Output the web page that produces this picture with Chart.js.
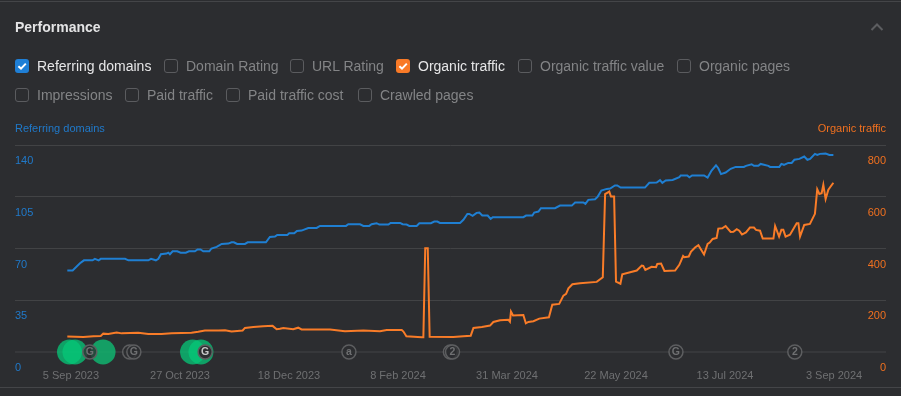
<!DOCTYPE html>
<html><head><meta charset="utf-8">
<style>
html,body{margin:0;padding:0;background:#2c2d30;width:901px;height:396px;overflow:hidden;font-family:"Liberation Sans",Arial,sans-serif}
#wrap{position:relative;width:901px;height:396px}
canvas{position:absolute;left:0;top:0}
.t{position:absolute;white-space:nowrap;line-height:16px}
.rule{position:absolute;left:0;width:901px;height:1px;background:#444548}
.box{position:absolute;width:12px;height:12px;border:1px solid #5b5c5f;border-radius:3px}
.box.on{border:0;width:14px;height:14px;border-radius:3px}
.box.on svg{display:block}
</style></head><body><div id="wrap">
<canvas id="c" width="901" height="396"></canvas>
</div>
<script src="https://cdn.jsdelivr.net/npm/chart.js@4"></script>
<script>
const tickDays=[0,52,104,156,208,260,312,364];
const tickLabels=["5 Sep 2023","27 Oct 2023","18 Dec 2023","8 Feb 2024","31 Mar 2024","22 May 2024","13 Jul 2024","3 Sep 2024"];
const leftTicks=[0,35,70,105,140];
const rightTicks=[0,200,400,600,800];
const rowOne=[["Referring domains",15,"#1f7fd6"],["Domain Rating",164,null],["URL Rating",290,null],["Organic traffic",396,"#f97a27"],["Organic traffic value",518,null],["Organic pages",677,null]];
const rowTwo=[["Impressions",15,null],["Paid traffic",125,null],["Paid traffic cost",226,null],["Crawled pages",358,null]];

const refDays=[-1.75,0.8,4.3,6.2,10.3,11.4,13.2,14.2,25.8,27.4,36.9,38.2,40.5,41.7,42.9,45.6,46.4,47.2,48.5,50.7,52.3,54.8,56.3,59.1,60.4,61.8,63.1,66,67,69.5,71.9,75.1,76.6,77.7,79.3,83,84.3,93,94.9,97.3,98.4,103.2,104.1,106.5,107.8,110,113.2,117.2,118.8,131.2,132.3,137.9,139.5,142.3,143.4,145.8,147.1,151.4,152.5,157,158.2,160.1,161.4,164.9,166.2,171.7,173.3,174.8,176,185.6,187.2,189.1,190,191.6,193.5,194.8,196.2,198.8,200.2,201.2,215.8,217.1,220.1,221,223,224.2,230.9,233.3,238.9,240.5,244.4,245.4,246.8,250,251.3,253,255.6,257.2,259.5,260.6,262.2,273.8,275.9,279.4,281,282.1,283.7,287,290.2,290.9,294,295,296.3,302,303.7,305.6,307.7,308.8,310.1,312.3,314.7,317.1,321,322,324.7,325.8,327.9,329,332.7,333.5,337.9,338.9,340.1,342.2,343.8,345.1,347.5,349.8,351.3,352.6,354.9,356,357.3,360,361.8,363.7];
const refValues=[55.1,55.1,60,62,62,63,62,63,63,62,62,63,62,63,66.1,66.6,67.2,66.1,68.1,68.1,67.2,67.2,68.1,68.1,69.3,69.3,68.1,68.1,70,71.1,73.1,73.3,74.2,74.2,73.1,73.1,74.2,74.2,77.8,78.1,79.2,79.2,80.3,80.3,81.9,82.1,83.9,83.9,85.3,85.3,86.4,86.4,85.3,85.3,86.4,87.1,86.2,86.2,87.3,87.3,86.4,86.2,85.3,85.3,87.1,87.1,88.2,88.2,87.3,87.3,89.4,93.4,93.4,92.1,94.1,94.3,92.3,92.3,90,91.2,91.2,92.3,92.3,94.3,95,97.3,97.3,99,99,101.1,101.1,100.2,102.9,103.3,105.1,109.2,110.3,110.5,112.6,112.6,111.2,111.2,114.4,114.6,116.2,114.4,116,116.4,118.2,119.4,119.4,118.2,119.4,119.4,118,122.7,126.3,124.3,120.3,121.4,123.9,125.2,125.2,125.9,127,125.9,125.9,127.2,125.9,125.2,125.2,127.2,126.6,127.9,127.9,130,130.6,132.2,130,130.6,134,133.3,134,134.2,133.3,133.3];

const orgDays=[-1.75,5.9,10.7,14.2,15.4,17.8,21.8,24.2,32.1,36.9,43.2,48,57.5,60.7,63.9,70.3,73.5,76.6,81.9,83,87,91.7,96.2,98.1,99.7,101.3,106,108.4,110,118.8,123.6,130.7,139.5,147.4,150.6,157.8,158.6,160,167.3,168.1,169,170.2,171.1,182.4,187.2,190.7,192,196,199.9,201.5,204.7,208.6,209.4,209.9,210.9,215.8,217,218.2,220.6,223.4,228,229.6,232.9,234.9,236.2,237.3,239.2,242.8,250.8,253.7,254.8,256.8,257.6,259.1,260,262.1,263,269.9,272.3,273,274,277,279.1,279.7,281.5,283.1,288.2,290.2,292,292.6,294.7,295.8,297.7,299.3,302,303.7,304.7,306.1,308,308.8,310.7,312.3,314.7,316,317.6,318.8,320.1,322,323.9,325.8,326.8,328.7,330,335.1,335.9,337.8,338.9,339.8,340.9,343,346.2,347,347.8,349.8,352.5,354.9,356,357,358.1,358.9,360,361.3,363.7];
const orgValues=[59.5,58,61,62,71,70,75,72,74,70,70,72,74,78,83,83,84,79,83,93,97,99.5,101,88,90,93,88,94,87,87,87,80,83,80,85,85,79,61,57,57,401,401,59,58,61,63,93,97,102,116,123,125,117,156,141,143,111,116,119,129,134,183,186,218,224.5,246,262,266,271,289,610,620,601,601,272,264,300.5,315,334,333,317,329,328,340.5,342,313,315,337,371,366,369,388,404,413,377,418,423,437,441,477,478,487,464,465,475,469,454,462,481,481,472,469,438.5,438.5,487,446,472,472,446,453,498,498,446,491,495,534,629,611,614,646,591,627,654];

const brightDays=[-0.7,1.9,58,62];
const dimDays=[15.3];
const eventDays=[9,28,30,64,132.6,181,182,288.6,345.3];
const eventLabels=["G","","G","G","a","","2","G","2"];
const eventFilled=[false,false,false,true,false,false,false,false,false];

const wrap=document.getElementById('wrap');
function addText(s,x,cy,size,color,weight){
  const e=document.createElement('div');e.className='t';e.textContent=s;
  e.style.left=x+'px';e.style.top=(cy-8)+'px';e.style.fontSize=size+'px';e.style.color=color;
  if(weight)e.style.fontWeight=weight;wrap.appendChild(e);return e;
}
function addRow(row,cy){
  row.forEach(([s,x,col])=>{
    const b=document.createElement('div');
    b.className='box'+(col?' on':'');b.style.left=x+'px';b.style.top=(cy-7)+'px';
    if(col){b.style.background=col;b.innerHTML='<svg width="14" height="14" viewBox="0 0 14 14"><path d="M3.4 7.2 L6 9.6 L10.8 4.6" fill="none" stroke="#fff" stroke-width="2"/></svg>';}
    wrap.appendChild(b);
    addText(s,x+22,cy,14,col?'#e6e6e7':'#838486');
  });
}
addText("Performance",15,27,14,'#e4e4e5','bold');
addRow(rowOne,66);addRow(rowTwo,95);
addText("Referring domains",15,128,11,'#2079c9');
const o=addText("Organic traffic",0,128,11,'#f0701f');o.style.left='auto';o.style.right='15px';
[1,387].forEach(y=>{const r=document.createElement('div');r.className='rule';r.style.top=y+'px';wrap.appendChild(r);});
const ch=document.createElementNS('http://www.w3.org/2000/svg','svg');
ch.setAttribute('width','14');ch.setAttribute('height','10');ch.style.cssText='position:absolute;left:870px;top:22px';
ch.innerHTML='<path d="M1.5 8 L7 2.5 L12.5 8" fill="none" stroke="#5c5d60" stroke-width="2"/>';wrap.appendChild(ch);

const pts=(xs,ys)=>xs.map((x,i)=>({x,y:ys[i]}));
const zeros=xs=>xs.map(x=>({x,y:0}));
const letters={id:'letters',afterDatasetsDraw(chart){
  const meta=chart.getDatasetMeta(0),ctx=chart.ctx;
  ctx.save();ctx.font='bold 10.5px "Liberation Sans"';ctx.textAlign='center';ctx.textBaseline='middle';
  meta.data.forEach((p,i)=>{ctx.fillStyle=eventFilled[i]?'#c8c8c9':'#6f7072';ctx.fillText(eventLabels[i],p.x,p.y+0.5);});
  ctx.restore();
}};
new Chart(document.getElementById('c'),{
  type:'line',
  data:{datasets:[
    {type:'scatter',data:zeros(eventDays),yAxisID:'y',clip:false,pointRadius:7,pointHoverRadius:7,
     pointBackgroundColor:eventFilled.map(f=>f?'#2c2d30':'rgba(44,45,48,0.75)'),pointBorderColor:'#5d5e60',pointBorderWidth:1.5,showLine:false},
    {data:pts(refDays,refValues),yAxisID:'y',borderColor:'#1f7fd2',borderWidth:2,pointRadius:0,tension:0},
    {data:pts(orgDays,orgValues),yAxisID:'y2',borderColor:'#f97c28',borderWidth:2,pointRadius:0,tension:0},
    {type:'scatter',data:zeros(dimDays),yAxisID:'y',clip:false,pointRadius:12.5,pointBorderWidth:0,pointBackgroundColor:'rgba(16,180,110,0.85)',showLine:false},
    {type:'scatter',data:zeros(brightDays),yAxisID:'y',clip:false,pointRadius:12.5,pointBorderWidth:0,pointBackgroundColor:'rgba(6,200,120,0.75)',showLine:false}
  ]},
  plugins:[letters],
  options:{responsive:false,animation:false,
    layout:{padding:{left:15,right:15,top:145,bottom:0}},
    plugins:{legend:{display:false},tooltip:{enabled:false}},
    scales:{
      x:{type:'linear',min:-26.7,max:388.8,grid:{display:false},border:{display:false},
        afterBuildTicks:s=>{s.ticks=tickDays.map(v=>({value:v}));},
        afterFit:s=>{s.height=44;},
        ticks:{autoSkip:false,maxRotation:0,padding:9,color:'#6f7072',font:{family:'"Liberation Sans"',size:11},
          callback:(v)=>tickLabels[tickDays.indexOf(v)]}},
      y:{position:'left',min:0,max:140,border:{display:false},
        grid:{drawTicks:false,color:c=>c.tick.value===0?'#37383b':'#424345',lineWidth:c=>c.tick.value===0?2:1},
        afterBuildTicks:s=>{s.ticks=leftTicks.map(v=>({value:v}));},
        afterFit:s=>{s.width=0;},
        ticks:{mirror:true,padding:0,labelOffset:16,color:'#2079c9',font:{family:'"Liberation Sans"',size:11}}},
      y2:{position:'right',min:0,max:800,border:{display:false},grid:{display:false,drawTicks:false},
        afterBuildTicks:s=>{s.ticks=rightTicks.map(v=>({value:v}));},
        afterFit:s=>{s.width=0;},
        ticks:{mirror:true,padding:0,labelOffset:16,color:'#f0701f',font:{family:'"Liberation Sans"',size:11}}}
    }
  }
});
</script></body></html>
